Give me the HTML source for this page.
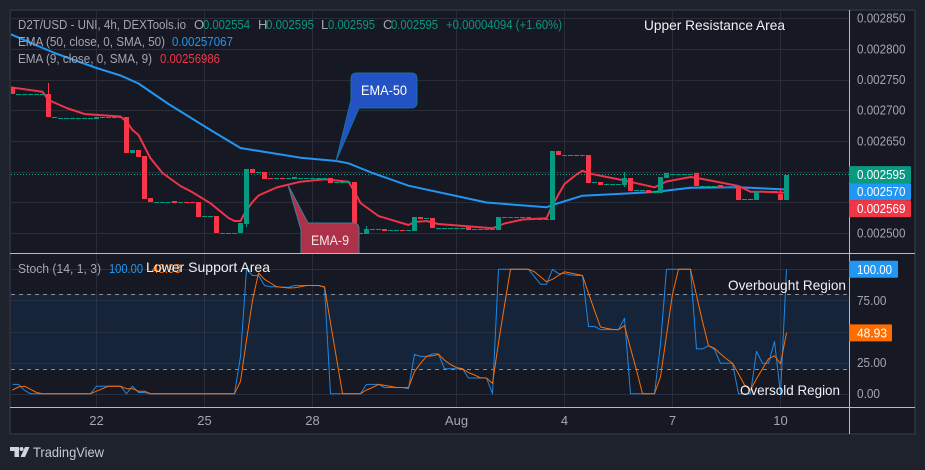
<!DOCTYPE html>
<html lang="en">
<head>
<meta charset="utf-8">
<title>D2T/USD chart</title>
<style>
html,body{margin:0;padding:0;width:925px;height:470px;overflow:hidden;background:#1e222d}
svg{display:block;font-family:"Liberation Sans",sans-serif}
text{white-space:pre}
</style>
</head>
<body>
<svg id="chart" width="925" height="470" viewBox="0 0 925 470" xmlns="http://www.w3.org/2000/svg">
  <defs>
    <clipPath id="main-clip"><rect x="11" y="11" width="838" height="242"/></clipPath>
    <clipPath id="stoch-clip"><rect x="11" y="254" width="838" height="153"/></clipPath>
  </defs>
  <rect x="10" y="10" width="905" height="424" fill="#161823" stroke="#2a2e39" stroke-width="2"/>
  <g id="grid"></g>
  <rect id="band" fill="#152439"></rect>
  <g id="grid-stoch"></g>
  <g id="band-lines"></g>
  <g id="main-pane" clip-path="url(#main-clip)"></g>
  <g id="stoch-pane" clip-path="url(#stoch-clip)"></g>
  <g stroke="#b8bac2" stroke-width="1" shape-rendering="crispEdges">
    <line x1="10" x2="915" y1="253.5" y2="253.5"/>
    <line x1="10" x2="915" y1="407.5" y2="407.5"/>
    <line x1="849.5" x2="849.5" y1="10" y2="434"/>
  </g>
  <g id="y-axis"></g>
  <g id="stoch-axis"></g>
  <g id="x-axis"></g>
  <g id="price-labels"></g>
  <g id="stoch-labels"></g>

  <g>
    <path d="M357 73H411Q417 73 417 79V102Q417 108 411 108H359L336 161L351 100V79Q351 73 357 73Z" fill="#2352c4" stroke="#1570a0" stroke-width="1"/>
    <text x="384" y="95" fill="#fff" font-size="14" text-anchor="middle" textLength="46" lengthAdjust="spacingAndGlyphs">EMA-50</text>
  </g>
  <g clip-path="url(#main-clip)">
    <path d="M308 223H353Q359 223 359 229V262H301V230L288 185Z" fill="#ad3148" stroke="#3f7f95" stroke-width="1"/>
    <text x="330" y="245" fill="#f4e8ea" font-size="14" text-anchor="middle" textLength="38" lengthAdjust="spacingAndGlyphs">EMA-9</text>
  </g>

  <g font-size="13">
    <text x="18" y="29" fill="#a3a6af" textLength="168" lengthAdjust="spacingAndGlyphs">D2T/USD - UNI, 4h, DEXTools.io</text>
    <text x="194" y="29" fill="#a3a6af">O</text>
    <text x="203" y="29" fill="#089981" textLength="47" lengthAdjust="spacingAndGlyphs">0.002554</text>
    <text x="258" y="29" fill="#a3a6af">H</text>
    <text x="266" y="29" fill="#089981" textLength="48" lengthAdjust="spacingAndGlyphs">0.002595</text>
    <text x="321" y="29" fill="#a3a6af">L</text>
    <text x="328" y="29" fill="#089981" textLength="47" lengthAdjust="spacingAndGlyphs">0.002595</text>
    <text x="383" y="29" fill="#a3a6af">C</text>
    <text x="391" y="29" fill="#089981" textLength="47" lengthAdjust="spacingAndGlyphs">0.002595</text>
    <text x="446" y="29" fill="#089981" textLength="116" lengthAdjust="spacingAndGlyphs">+0.00004094 (+1.60%)</text>
    <text x="18" y="46" fill="#a3a6af" textLength="147" lengthAdjust="spacingAndGlyphs">EMA (50, close, 0, SMA, 50)</text>
    <text x="172" y="46" fill="#2196f3" textLength="61" lengthAdjust="spacingAndGlyphs">0.00257067</text>
    <text x="18" y="63" fill="#a3a6af" textLength="134" lengthAdjust="spacingAndGlyphs">EMA (9, close, 0, SMA, 9)</text>
    <text x="160" y="63" fill="#f23645" textLength="60" lengthAdjust="spacingAndGlyphs">0.00256986</text>
    <text x="18" y="273" fill="#a3a6af" textLength="83" lengthAdjust="spacingAndGlyphs">Stoch (14, 1, 3)</text>
    <text x="109" y="273" fill="#2196f3" textLength="34" lengthAdjust="spacingAndGlyphs">100.00</text>
    <text x="152" y="273" fill="#ff6d00" textLength="29" lengthAdjust="spacingAndGlyphs">48.93</text>
  </g>

  <g font-size="14" fill="#f0f1f4">
    <text x="644" y="30" textLength="141" lengthAdjust="spacingAndGlyphs">Upper Resistance Area</text>
    <text x="146" y="272" textLength="124" lengthAdjust="spacingAndGlyphs">Lower Support Area</text>
    <text x="728" y="290" textLength="118" lengthAdjust="spacingAndGlyphs">Overbought Region</text>
    <text x="740" y="395" textLength="100" lengthAdjust="spacingAndGlyphs">Oversold Region</text>
  </g>

  <g>
    <path d="M10 447H19V457H14.5V451H10Z" fill="#d1d4dc"/>
    <circle cx="21.5" cy="449" r="2" fill="#d1d4dc"/>
    <path d="M25 447H29.5L25 457H20.5Z" fill="#d1d4dc"/>
    <text x="33" y="457" fill="#c8cad2" font-size="14" textLength="71" lengthAdjust="spacingAndGlyphs">TradingView</text>
  </g>
</svg>

<script>
// Candle index 0 sits on the "22" date tick. Prices are in millionths of USD.
var firstCandle = -14;
var opens = [
2737.8,
2726.4,2726.4,2726.4,2726.4,2726.4,
2726.4,2688.9,
2686.3,2686.3,2686.3,2686.3,2686.3,2686.3,
2686,
2687.8,2687.8,2687.8,2687.8,
2688.9,2630.3,2635.2,2625.4,2557,
2550.9,2550.9,2550.9,2552,2549.3,2549.7,2549.7,2550.5,2526.5,2526.5,
2527.7,2500.4,2500.4,2500.4,2500,2514.7,2604.2,2599,2599.4,2589.8,
2589.2,2589.2,2588.4,2588,
2589.2,2589.2,2589.2,2589.2,2589.2,
2589.6,2582,2582,2582,2583,2499.4,2498.9,2505.5,2505.5,2506.5,
2503.9,2503.9,2504.3,2503.9,2503.7,2526,2524.2,2524.4,
2507.9,2507.9,2507.9,2507.9,2507.9,
2509.8,2505.5,2505.5,2505.5,2505.5,2504.9,
2525.8,2525.8,2525.8,2525.8,2525.8,
2525.2,2522.6,2522.6,2521.2,2633.6,
2626.8,2627.2,2627.2,2626.8,
2627,2582,2583,2579.6,2579.6,2579.6,2578.7,2589.6,
2569,2569,2570,2566.6,2565.6,2589.6,
2595.9,2595.9,2595.9,2595.9,
2597.7,2576.3,2576.3,2576.3,2578.2,2574.8,2574.8,2574.4,
2555.1,2555.1,2554.2,2568.4,2567.4,2567.8,2564,2554
];
var closes = [
2726.4,
2726.8,2726.8,2726.8,2726.8,2726.8,
2688.9,2687,
2686.7,2686.7,2686.7,2686.7,2686.7,2686.7,
2689,
2688.2,2688.2,2688.2,2688.2,
2630.3,2635.2,2623.8,2555.4,2550.5,
2551.3,2551.3,2551.3,2548.9,2549.7,2549.3,2549.3,2526.1,2526.9,2526.9,
2500,2500.8,2500.8,2500.8,2516.3,2604.2,2597.7,2599.4,2588,2589.4,
2589.6,2588.4,2588.8,2590.4,
2589.6,2589.6,2589.6,2589.6,2589.6,
2581.9,2582.4,2582.4,2582.4,2498.9,2499,2506.5,2505.9,2505.9,2503.3,
2504.3,2504.3,2503.9,2504.3,2526,2522.8,2524.6,2508.1,
2508.3,2508.3,2508.3,2508.3,2508.3,
2504.9,2505.9,2505.9,2505.9,2505.9,2526,
2526.2,2526.2,2526.2,2526.2,2526.2,
2522.8,2523,2523,2633.6,2627,
2627.2,2626.8,2626.8,2627.2,
2581.4,2582.4,2578.2,2580,2580,2580,2589.6,2567.9,
2569.4,2569.4,2565.1,2567,2591.2,2597.7,
2596.3,2596.3,2596.3,2596.3,
2576.5,2576.7,2576.7,2576.7,2573.8,2575.2,2575.2,2554.2,
2554.7,2554.7,2568.4,2567.6,2567.8,2565,2554.2,2595
];
var wickCandles = [-8, 25, 45, 88, 88, 114];
var wickPrices = [2744.3, 2509.8, 2511.4, 2574.9, 2599.4, 2573.3];

var ema50Candles = [-14.4,-7,0,4,7,12,19,24,34,40,42,46,52,65,75,76,81,93,99,107,115];
var ema50Values = [2824.1,2793.2,2768.7,2756.5,2743.5,2710.1,2667.8,2638.4,2622.6,2617.3,2613.5,2597.7,2577,2549.7,2541.9,2545.6,2560.8,2566.8,2573.8,2574.4,2570.8];

var ema9Candles = [-14.4,-9,-8,-5,-2,4,5,6,7,9,11,14,16,19,22,23,24,25,26,27,30,34,38,42,43,44,47,52,53,55,57,66,68,71,75,76,78,80,81,82,88,93,95,99,101,107,109,111,115];
var ema9Values = [2737.3,2730.1,2716.6,2703.6,2693.8,2689.7,2681.3,2667.8,2659.6,2621.7,2597.7,2576.5,2566.3,2548.4,2524.4,2519.5,2519.5,2537.5,2550.5,2561.1,2574.1,2583.6,2587.5,2583.6,2567.3,2548.9,2527.7,2513,2517.9,2519.5,2514.7,2507.7,2515.5,2522,2523.9,2545.6,2579.8,2595.3,2601.5,2597.2,2585.5,2574.4,2583.9,2591.2,2588,2576.5,2567.3,2567.3,2565.6];

var stochK = [
7.5,7.5,2.7,0,0,0,0,0,0,0,0,0,0,0,
6,6,6,6,6,0,6,1,1,0,
0,0,0,0,0,0,0,0,0,0,0,0,0,0,
30,100,95,95,87,86,86,85.5,85.5,87,87,87,87,87,85.5,0,0,0,0,0,0,
7.5,7.5,7.5,5,5,5,5,4,31.6,30,30,32,32,20,20,20,20,12.6,12.6,12.6,12.6,0,
100,100,100,100,100,100,94,88,88,100,96.5,96.8,95.5,95,95,54,54,
51.5,51.5,51.5,51.5,60.6,0,0,0,0,0,40,100,100,100,100,100,
36,36,38.6,35.6,24.4,24.4,24.4,0,0,0,34,24.4,24.4,42,0,100
];
var stochD = [
3,5.4,6,3.5,1,0,0,0,0,0,0,0,0,0,
2,4,6,6,6,4,4,2,2,0,
0,0,0,0,0,0,0,0,0,0,0,0,0,0,
10,43,75,97,92,89,86,85.5,85,85.2,86,87,87,87,86,57,28.5,0,0,0,0,
3,5,7.5,6.7,5.9,5,4.9,4.9,17.7,24.4,30,30.5,31.6,27,23.5,21,20,17,15,12.8,12.6,8.3,
41,71,100,100,100,100,98,94,90,92,95,98,97,96,95,80.7,67,
53.6,52.5,51.7,51.5,54.7,36.5,19,0,0,0,13.7,47,80,100,100,100,
79,58,38.6,36.5,32,28,24.4,16,7,3,12,20,28,30.5,24,48.93
];

var priceTicks = [2850,2800,2750,2700,2650,2600,2550,2500];
var stochGridTicks = [100,75,50,25,0];
var stochTickLabels = [75,25,0];
var stochBandLevels = [80,20];
var dateTickCandles = [0,18,36,60,78,96,114];
var dateTickLabels = ["22","25","28","Aug","4","7","10"];
var lastPrice = 2595;
var lastEma50 = 2570;
var lastEma9 = 2569;
var lastK = 100;
var lastD = 48.93;

var NS = "http://www.w3.org/2000/svg";
function xOf(i){ return 96.5 + 6 * i; }
function yOf(p){ return 233 - (p - 2500) / 1.6287; }
function ySt(v){ return 393.7 - 1.244 * v; }
function mk(tag, parent, attrs){
  var e = document.createElementNS(NS, tag);
  for (var k in attrs) e.setAttribute(k, attrs[k]);
  parent.appendChild(e);
  return e;
}
function $(id){ return document.getElementById(id); }

// Grid
var gridG = $("grid");
dateTickCandles.forEach(function(c){
  var l = mk("line", gridG, {x1:xOf(c),x2:xOf(c),y1:11,y2:407,stroke:"#2a2d38","shape-rendering":"crispEdges"});
  
  
});
priceTicks.forEach(function(p){
  var y = Math.round(yOf(p)) + 0.5;
  var l = mk("line", gridG, {x1:11,x2:849,y1:y,y2:y,stroke:"#2a2d38","shape-rendering":"crispEdges"});
  
  
});

// Stochastic band
var band = $("band");
band.setAttribute("x", 11);
band.setAttribute("width", 838);
band.setAttribute("y", ySt(stochBandLevels[0]));
band.setAttribute("height", ySt(stochBandLevels[1]) - ySt(stochBandLevels[0]));

var gridS = $("grid-stoch");
stochGridTicks.forEach(function(v){
  var y = Math.round(ySt(v)) + 0.5;
  var l = mk("line", gridS, {x1:11,x2:849,y1:y,y2:y,stroke:"#2a3040","shape-rendering":"crispEdges"});
  
  
});
dateTickCandles.forEach(function(c){
  var l = mk("line", gridS, {x1:xOf(c),x2:xOf(c),y1:ySt(stochBandLevels[0]),y2:ySt(stochBandLevels[1]),stroke:"#2a3347","shape-rendering":"crispEdges"});
  
  
});
stochBandLevels.forEach(function(v){
  var y = Math.round(ySt(v)) + 0.5;
  var l = mk("line", $("band-lines"), {x1:11,x2:849,y1:y,y2:y,stroke:"#8a8d97","stroke-dasharray":"4 4","shape-rendering":"crispEdges"});
  
  
});

// Main pane series
var mainG = $("main-pane");
function polyFromKnots(idx, vals, color, width, parent, yFn){
  var pts = idx.map(function(c, n){ return xOf(c).toFixed(1) + "," + yFn(vals[n]).toFixed(1); }).join(" ");
  return mk("polyline", parent, {points:pts,fill:"none",stroke:color,"stroke-width":width,"stroke-linejoin":"round"});
}
var lastY = Math.round(yOf(lastPrice)) - 0.5;
var lastLine = mk("line", mainG, {x1:11,x2:849,y1:lastY,y2:lastY,stroke:"#0aa88e","stroke-width":1,"stroke-dasharray":"1 2","shape-rendering":"crispEdges"});



var ema50Line = polyFromKnots(ema50Candles, ema50Values, "#2196f3", 2, mainG, yOf);


var ema9Line = polyFromKnots(ema9Candles, ema9Values, "#ee3448", 2, mainG, yOf);



var GREEN = "#089981", RED = "#f7364a";
wickCandles.forEach(function(c, n){
  var k = c - firstCandle;
  var up = closes[k] >= opens[k];
  var edge = wickPrices[n] > Math.max(opens[k], closes[k]) ? Math.max(opens[k], closes[k]) : Math.min(opens[k], closes[k]);
  var w = mk("line", mainG, {x1:xOf(c),x2:xOf(c),y1:yOf(edge),y2:yOf(wickPrices[n]),stroke:up?GREEN:RED,"stroke-width":1,"shape-rendering":"crispEdges"});
  
  
});
opens.forEach(function(o, k){
  var c = closes[k], up = c >= o;
  var top = Math.round(yOf(Math.max(o, c)));
  var bot = Math.round(yOf(Math.min(o, c)));
  var r = mk("rect", mainG, {x:xOf(k + firstCandle) - 2.5,y:top,width:5,height:Math.max(1, bot - top),fill:up?GREEN:RED,"shape-rendering":"crispEdges"});
  
  
});

// Stochastic lines
var stG = $("stoch-pane");
var allIdx = stochK.map(function(_, k){ return k + firstCandle; });
var kLine = polyFromKnots(allIdx, stochK, "#1e88e5", 1, stG, ySt);


var dLine = polyFromKnots(allIdx, stochD, "#ff6d00", 1, stG, ySt);



// Axes
function label(parent, x, y, str, fill, size, anchor, len){
  var t = mk("text", parent, {x:x,y:y,fill:fill,"font-size":size,"text-anchor":anchor||"start"});
  if (len) {
    t.setAttribute("textLength", len);
    t.setAttribute("lengthAdjust", "spacingAndGlyphs");
  }
  t.textContent = str;
  return t;
}
priceTicks.forEach(function(p){
  var t = label($("y-axis"), 857, yOf(p) + 4.5, (p / 1e6).toFixed(6), "#a3a6af", 13, "start", 48.5);
  
  
});
stochTickLabels.forEach(function(v){
  var t = label($("stoch-axis"), 857, ySt(v) + 4.5, v.toFixed(2), "#a3a6af", 13, "start", v === 0 ? 23 : 29.5);
  
  
});
dateTickCandles.forEach(function(c, n){
  var t = label($("x-axis"), xOf(c), 425, dateTickLabels[n], "#a3a6af", 13, "middle");
  
  
});

// Price tags, stacked so they do not overlap
var tagTop = yOf(lastPrice) - 8.5;
[[lastPrice, "#089981"], [lastEma50, "#2196f3"], [lastEma9, "#f23645"]].forEach(function(item, n){
  var g = mk("g", $("price-labels"), {});
  
  
  mk("rect", g, {x:849,y:tagTop + n * 17,width:62,height:17,rx:1,fill:item[1]});
  label(g, 857, tagTop + n * 17 + 13, (item[0] / 1e6).toFixed(6), "#fff", 13, "start", 48.5);
});
[[lastK, "#2196f3", 49, 35], [lastD, "#ff6d00", 43, 30]].forEach(function(item){
  var g = mk("g", $("stoch-labels"), {});
  
  
  var cy = ySt(item[0]);
  mk("rect", g, {x:849,y:cy - 8.5,width:item[2],height:17,rx:1,fill:item[1]});
  label(g, 857, cy + 4.5, item[0].toFixed(2), "#fff", 13, "start", item[3]);
});
</script>
</body>
</html>
